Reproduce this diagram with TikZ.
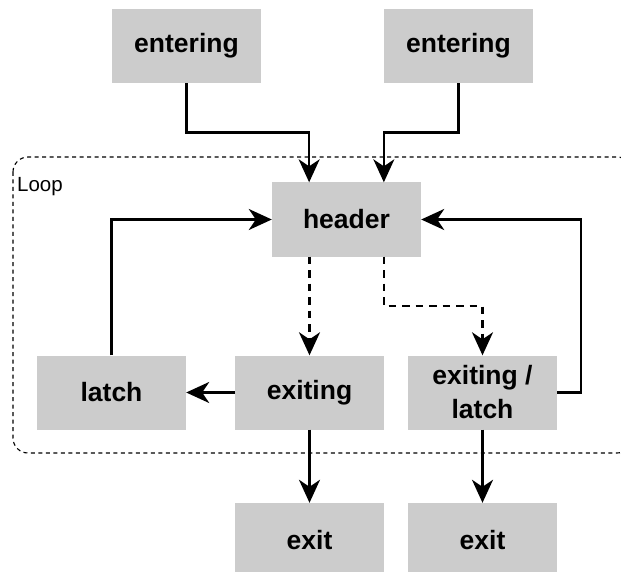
\documentclass[tikz,border=0pt]{standalone}
\usepackage{fontspec}
\setmainfont{Liberation Sans}
\usetikzlibrary{arrows.meta,calc}
\definecolor{boxgray}{HTML}{CCCCCC}
\tikzset{
  blockbox/.style={fill=boxgray, draw=none, minimum width=149pt, minimum height=74pt,
    inner sep=0pt, align=center, font=\bfseries\fontsize{26.5}{34}\selectfont},
  flow/.style={line width=2.2pt, -{Stealth[length=23pt,width=21pt,inset=7pt]}},
  dflow/.style={flow, dash pattern=on 7.5pt off 6pt},
  loopframe/.style={line width=1.1pt, dash pattern=on 4pt off 3.5pt, rounded corners=15pt}
}
\begin{document}
\begin{tikzpicture}[x=1pt, y=-1pt]
  \useasboundingbox (0,0) rectangle (621,572);
  \clip (0,0) rectangle (621,572);

  % loop region
  \draw[loopframe] (13,157) rectangle (632,453);
  \node[anchor=base west, inner sep=0pt, font=\fontsize{20.5}{24}\selectfont] (looplabel) at (17,192) {Loop};

  % blocks
  \node[blockbox] (ent1) at (186.5,46) {entering};
  \node[blockbox] (ent2) at (458.5,46) {entering};
  \node[blockbox] (header) at (346.5,219.5) {header};
  \node[blockbox] (latch) at (111.5,392.5) {latch};
  \node[blockbox] (exiting) at (309.5,392.5) {exiting};
  \node[blockbox] (exlatch) at (482.5,392.5) {exiting /\\latch};
  \node[blockbox] (exit1) at (309.5,540) {exit};
  \node[blockbox] (exit2) at (482.5,540) {exit};

  % routing helpers
  \coordinate (hin1) at ($(header.north west)!0.25!(header.north east)$);
  \coordinate (hin2) at ($(header.north west)!0.75!(header.north east)$);
  \coordinate (hout2) at ($(header.south west)!0.75!(header.south east)$);
  \coordinate (elbowtop) at (0,132.5);
  \coordinate (elbowmid) at (0,306);
  \coordinate (rail) at (581,0);

  % entering edges
  \draw[flow] (ent1.south) |- (hin1 |- elbowtop) -- (hin1);
  \draw[flow] (ent2.south) |- (hin2 |- elbowtop) -- (hin2);

  % exits out of the header
  \draw[dflow] (exiting.north |- header.south) -- (exiting.north);
  \draw[dflow] (hout2) |- (exlatch.north |- elbowmid) -- (exlatch.north);

  % back edges
  \draw[flow] (latch.north) |- (header.west);
  \draw[flow] (exlatch.east) -- (exlatch.east -| rail) |- (header.east);
  \draw[flow] (exiting.west) -- (latch.east);

  % leaving the loop
  \draw[flow] (exiting.south) -- (exit1.north);
  \draw[flow] (exlatch.south) -- (exit2.north);
\end{tikzpicture}
\end{document}
